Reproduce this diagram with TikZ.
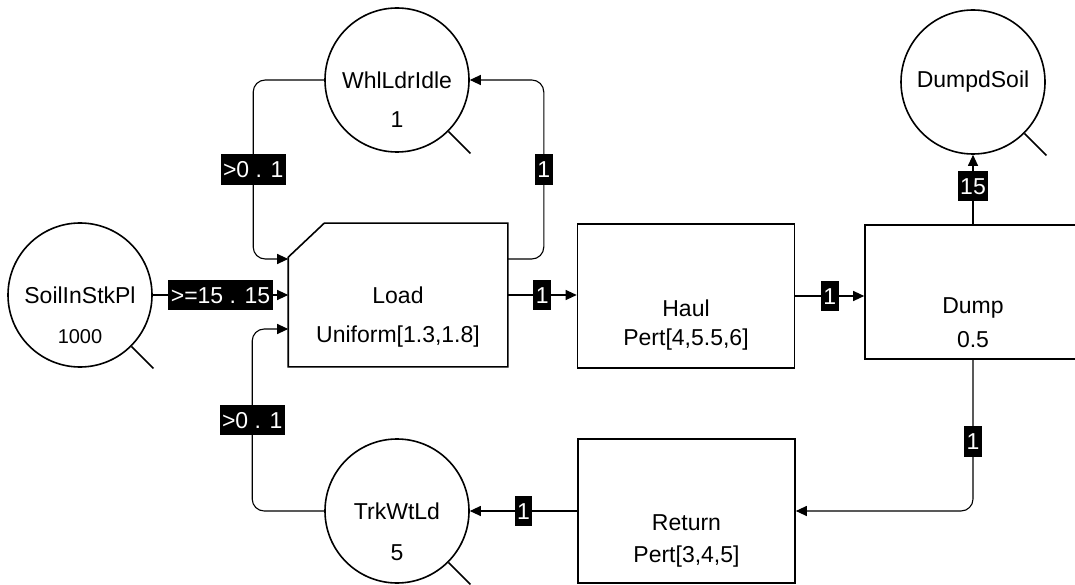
\documentclass[tikz,border=0pt]{standalone}
\usepackage{fontspec}
\setmainfont{Liberation Sans}
\usetikzlibrary{arrows.meta,positioning}
\tikzset{%
  every queue/.style={
    circle,
    draw,
    line width=1.6pt,
    minimum size=144pt,
    inner sep=0pt
  },
  every activity/.style={
    rectangle,
    draw,
    line width=1.6pt,
    minimum width=217pt,
    minimum height=144pt,
    inner sep=0pt
  },
}

\begin{document}
\begin{tikzpicture}[x=1pt,y=-1pt,>={Triangle[length=11pt,width=10pt]},font=\fontsize{23}{28}\selectfont]
        \tikzstyle{queue}=[every queue]
        \tikzstyle{activity}=[every activity]
        \tikzstyle{qval}=[inner sep=0pt]
        \tikzstyle{tagbox}=[sharp corners,fill=black,text=white,inner xsep=2.5pt,inner ysep=7pt,text height=16.5pt,text depth=0pt]
        \tikzstyle{conn}=[->,line width=1.1pt,rounded corners=12pt]
        \tikzstyle{qtail}=[line width=1.6pt]

        \useasboundingbox (0,0) rectangle (1075,585);

        % queues
        \node[queue] (soil) at (80,295) {SoilInStkPl};
        \node[qval,font=\fontsize{20}{24}\selectfont] (soilval) at ([yshift=-42pt]soil.center) {1000};
        \node[queue] (idle) at (397,80) {WhlLdrIdle};
        \node[qval] (idleval) at ([yshift=-40pt]idle.center) {1};
        \node[queue] (trk) at (397,511) {TrkWtLd};
        \node[qval] (trkval) at ([yshift=-42pt]trk.center) {5};
        \node[queue] (dumped) at (973,82) {DumpdSoil};

        \draw[qtail] (soil.-45) -- ++(22pt,-22pt);
        \draw[qtail] (idle.-45) -- ++(22pt,-22pt);
        \draw[qtail] (trk.-45) -- ++(22pt,-22pt);
        \draw[qtail] (dumped.-45) -- ++(22pt,-22pt);

        % activities
        \node[activity,draw=none,minimum width=218pt,minimum height=142pt] (load) at (398,295) {Load};
        \draw[line width=1.6pt] ([yshift=-34pt]load.north west) -- ([xshift=36pt]load.north west)
            -- (load.north east) -- (load.south east) -- (load.south west) -- cycle;
        \node[qval] (loadval) at ([yshift=-42pt]load.center) {Uniform[1.3,1.8]};

        \node[activity] (haul) at (686,296) {};
        \node[qval] (haulname) at ([yshift=-12pt]haul.center) {Haul};
        \node[qval] (haulval) at ([yshift=-44pt]haul.center) {Pert[4,5.5,6]};

        \node[activity,minimum width=216pt,minimum height=134pt] (dump) at (973,292) {};
        \node[qval] (dumpname) at ([yshift=-16pt]dump.center) {Dump};
        \node[qval] (dumpval) at ([yshift=-48pt]dump.center) {0.5};

        \node[activity] (ret) at (686.5,511) {};
        \node[qval] (retname) at ([yshift=-12pt]ret.center) {Return};
        \node[qval] (retval) at ([yshift=-46pt]ret.center) {Pert[3,4,5]};

        \coordinate (loadin1) at ([yshift=36pt]load.west);
        \coordinate (loadin2) at ([yshift=-34pt]load.west);
        \coordinate (loadout) at ([yshift=36pt]load.east);

        % flows
        \draw[conn] (soil) -- node[tagbox] {>=15 . 15} (load);
        \draw[conn] (idle.west) -- ++(-71pt,0) |- node[tagbox,pos=0.25] {>0 . 1} (loadin1);
        \draw[conn] (loadout) -- ++(36pt,0) |- node[tagbox,pos=0.25] {1} (idle.east);
        \draw[conn] (trk.west) -- ++(-72pt,0) |- node[tagbox,pos=0.25] {>0 . 1} (loadin2);
        \draw[conn] (load.east) -- node[tagbox] {1} (load.east -| haul.west);
        \draw[conn] (haul.east) -- node[tagbox] {1} (haul.east -| dump.west);
        \draw[conn] (dump.north) -- node[tagbox,pos=0.55] {15} (dumped.south);
        \draw[conn] (dump.south) |- node[tagbox,pos=0.27] {1} (ret.east);
        \draw[conn] (ret.west) -- node[tagbox] {1} (trk.east);
    \end{tikzpicture}
\end{document}
